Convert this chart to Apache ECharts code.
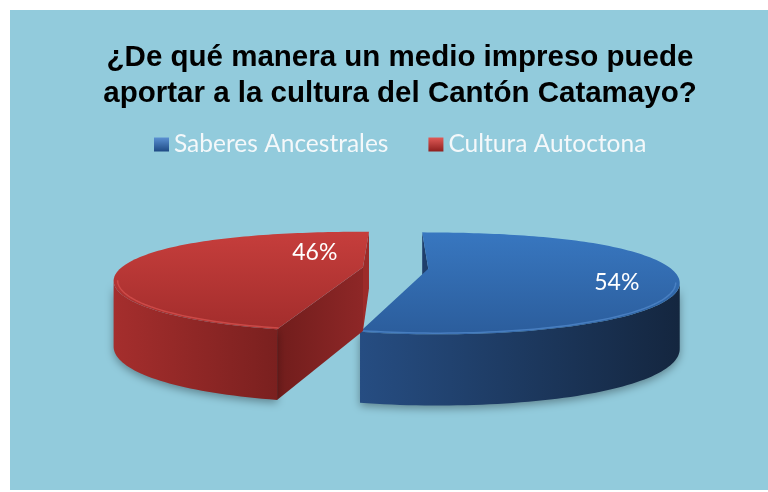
<!DOCTYPE html>
<html>
<head>
<meta charset="utf-8">
<script src="https://cdn.jsdelivr.net/npm/echarts@6/dist/echarts.min.js"></script>
<style>
  html, body { margin: 0; padding: 0; background: #ffffff; }
  #grafica { width: 768px; height: 492px; }
</style>
</head>
<body>
<div id="grafica"></div>
<script>
const titulo = "¿De qué manera un medio impreso puede\naportar a la cultura del Cantón Catamayo?";
const categorias = ["Saberes Ancestrales", "Cultura Autoctona"];
const valores = [54, 46];
const etiquetas = ["54%", "46%"];

// colores de cada porcion (cara superior, pared exterior, paredes radiales)
const estilos = [
  {
    arriba: ["#3877C0", "#2B5D9C"],
    pared: ["#264D82", "#14263F"],
    ladoIni: "#1F3F6C",
    ladoFin: "#1F3F6C",
    borde: "#4F86C8",
    leyenda: ["#5A90D2", "#1E4A84"],
  },
  {
    arriba: ["#C63E3C", "#A32D2C"],
    pared: ["#A52E2D", "#7A201F"],
    ladoIni: ["#711D1C", "#8E2727"],
    ladoFin: "#9C2B2A",
    borde: "#D4504E",
    leyenda: ["#E05A57", "#8E1F1E"],
  },
];

// posicion de la etiqueta dentro de la porcion: [fraccion del arco, radio]
const posEtiquetas = [[0.564, 0.767], [0.784, 0.382]];

// proyeccion "3D" aproximada del pastel
const CX = 395.5, CY = 268, RADIO = 242, CAM = 4.4, ALTO = 64, SEPARA = 0.136;
const total = valores.reduce((a, b) => a + b, 0);

function proyectar(X, Z, d) {
  const m = CAM / (CAM - Z);
  return [CX + X * RADIO * m, CY + 50.5 * Z + 14.5 * Z * Z + d * ALTO * (1 + 0.11 * Z)];
}

function degradado(c, vertical) {
  if (typeof c === "string") return c;
  return {
    type: "linear", x: 0, y: 0, x2: vertical ? 0 : 1, y2: vertical ? 1 : 0,
    colorStops: [{ offset: 0, color: c[0] }, { offset: 1, color: c[1] }],
  };
}

const renderPorcion = (i) => (params, api) => {
  const v = api.value(0);
  const ini = api.value(1);
  const est = estilos[i];
  const a0 = (ini / total) * Math.PI * 2;
  const a1 = ((ini + v) / total) * Math.PI * 2;
  const mid = (a0 + a1) / 2;
  const ox = SEPARA * Math.sin(mid);
  const oz = -SEPARA * Math.cos(mid);
  const pt = (phi, r, d) => proyectar(ox + r * Math.sin(phi), oz - r * Math.cos(phi), d);

  const n = Math.ceil((a1 - a0) / (Math.PI / 120));
  const angs = [];
  for (let k = 0; k <= n; k++) angs.push(a0 + ((a1 - a0) * k) / n);
  const arriba = angs.map((a) => pt(a, 1, 0));

  const hijos = [];

  // paredes radiales
  const lados = [
    { a: a0, nx: -Math.cos(a0), nz: -Math.sin(a0), fill: est.ladoIni },
    { a: a1, nx: Math.cos(a1), nz: Math.sin(a1), fill: est.ladoFin },
  ];
  lados.forEach((l) => {
    const px = ox + 0.5 * Math.sin(l.a);
    const pz = oz - 0.5 * Math.cos(l.a);
    if ((0 - px) * l.nx + (CAM - pz) * l.nz > 0) {
      hijos.push({
        type: "polygon",
        shape: { points: [pt(l.a, 0, 0), pt(l.a, 1, 0), pt(l.a, 1, 1), pt(l.a, 0, 1)] },
        style: { fill: degradado(l.fill, false) },
      });
    }
  });

  // pared exterior visible
  let desde = -1, hasta = -1;
  for (let k = 0; k < n; k++) {
    if (arriba[k + 1][0] < arriba[k][0]) {
      if (desde < 0) desde = k;
      hasta = k + 1;
    }
  }
  if (desde >= 0) {
    const sup = [], inf = [];
    for (let k = desde; k <= hasta; k++) {
      sup.push(pt(angs[k], 1, 0));
      inf.unshift(pt(angs[k], 1, 1));
    }
    hijos.push({
      type: "polygon",
      shape: { points: sup.concat(inf) },
      style: {
        fill: degradado(est.pared, false),
        shadowBlur: 8,
        shadowOffsetY: 3,
        shadowColor: "rgba(0,0,0,0.35)",
      },
    });
  }

  // cara superior
  hijos.push({
    type: "polygon",
    shape: { points: [pt(a0, 0, 0)].concat(arriba) },
    style: { fill: degradado(est.arriba, true) },
  });

  // brillo del borde frontal
  if (desde >= 0) {
    const brillo = [];
    for (let k = desde; k <= hasta; k++) brillo.push(pt(angs[k], 0.985, 0));
    hijos.push({
      type: "polyline",
      shape: { points: brillo },
      style: { stroke: est.borde, lineWidth: 1.5, fill: null, opacity: 0.8 },
    });
  }

  // etiqueta
  const pe = posEtiquetas[i];
  const pl = pt(a0 + (a1 - a0) * pe[0], pe[1], 0);
  hijos.push({
    type: "text",
    style: {
      text: etiquetas[i],
      x: pl[0],
      y: pl[1],
      fill: "#ffffff",
      fontSize: 23,
      fontFamily: "Lato",
      align: "center",
      verticalAlign: "middle",
    },
  });

  return { type: "group", children: hijos };
};

let acumulado = 0;
const series = categorias.map((nombre, i) => {
  const s = {
    name: nombre,
    type: "custom",
    coordinateSystem: "none",
    silent: true,
    itemStyle: { color: degradado(estilos[i].leyenda, true) },
    renderItem: renderPorcion(i),
    data: [[valores[i], acumulado]],
  };
  acumulado += valores[i];
  return s;
});

const option = {
  animation: false,
  backgroundColor: "transparent",
  graphic: [
    {
      type: "rect",
      silent: true,
      z: -10,
      shape: { x: 10, y: 10, width: 758, height: 480 },
      style: { fill: "#92CBDC" },
    },
  ],
  title: {
    text: titulo,
    left: 395,
    textAlign: "center",
    top: 35,
    textStyle: {
      color: "#000000",
      fontSize: 29.5,
      fontWeight: "bold",
      fontFamily: "Liberation Sans",
      lineHeight: 36,
    },
  },
  legend: {
    data: categorias,
    left: 149,
    top: 127,
    icon: "rect",
    itemWidth: 15,
    itemHeight: 14,
    itemGap: 40,
    selectedMode: false,
    textStyle: { color: "#F4F8FA", fontSize: 24.5, fontFamily: "Lato" },
  },
  series: series,
};

const myChart = echarts.init(document.querySelector("#grafica"));
myChart.setOption(option);
</script>
</body>
</html>
